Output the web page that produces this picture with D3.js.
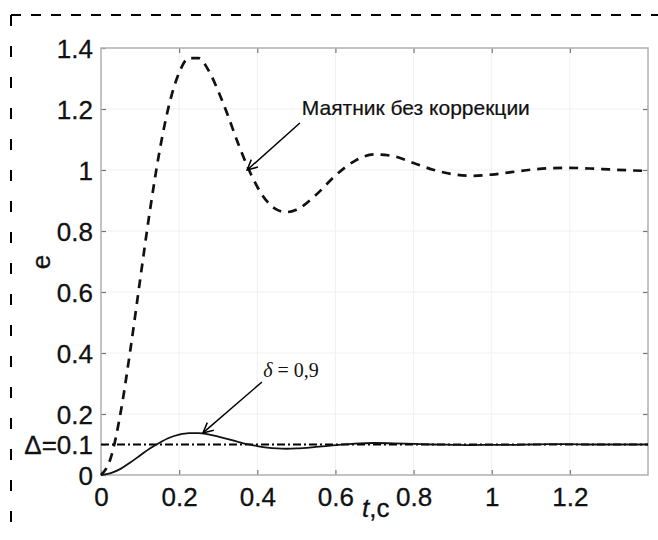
<!DOCTYPE html>
<meta charset="utf-8">
<script src="https://d3js.org/d3.v7.min.js"></script>
<style>
  body { margin: 0; background: #fff; }
  .tick text { font-family: "Liberation Sans", Arial, sans-serif; font-size: 26px; fill: #111; stroke: #111; stroke-width: 0.3px; }
</style>
<div id="chart"></div>
<script>
  // time grid (s)
  var tTime = [0, 0.025, 0.05, 0.075, 0.1, 0.125, 0.15, 0.175, 0.2, 0.225, 0.25, 0.275, 0.3, 0.325, 0.35,
    0.375, 0.4, 0.425, 0.45, 0.475, 0.5, 0.55, 0.6, 0.65, 0.7, 0.75, 0.8, 0.85, 0.9, 0.95, 1.0,
    1.05, 1.1, 1.15, 1.2, 1.25, 1.3, 1.35, 1.4];
  // pendulum without correction (dashed)
  var eNoCorr = [0, 0.056, 0.203, 0.409, 0.639, 0.865, 1.063, 1.217, 1.319, 1.367, 1.367, 1.327, 1.259, 1.178, 1.090,
    1.011, 0.945, 0.897, 0.870, 0.862, 0.870, 0.918, 0.982, 1.030, 1.051, 1.045, 1.023, 1.001, 0.986, 0.981, 0.985,
    0.993, 1.001, 1.006, 1.007, 1.005, 1.002, 0.999, 0.997];
  // delta = 0.9 (solid)
  var eDelta = [0, 0.006, 0.020, 0.041, 0.064, 0.087, 0.106, 0.122, 0.132, 0.137, 0.137, 0.133, 0.126, 0.118, 0.109,
    0.101, 0.095, 0.090, 0.087, 0.086, 0.087, 0.092, 0.098, 0.103, 0.105, 0.104, 0.102, 0.100, 0.099, 0.098, 0.099,
    0.099, 0.100, 0.101, 0.101, 0.100, 0.100, 0.100, 0.100];
  var deltaLevel = 0.1;

  var tTicks = [0, 0.2, 0.4, 0.6, 0.8, 1, 1.2];
  var tTickLabels = ["0", "0.2", "0.4", "0.6", "0.8", "1", "1.2"];
  var eTicks = [0, 0.1, 0.2, 0.4, 0.6, 0.8, 1, 1.2, 1.4];
  var eTickLabels = ["0", "\u0394=0.1", "0.2", "0.4", "0.6", "0.8", "1", "1.2", "1.4"];
  var gridTicks = [0.2, 0.4, 0.6, 0.8, 1, 1.2];

  var W = 658, H = 540;
  var pLeft = 101, pRight = 648, pTop = 48, pBottom = 475;

  var svg = d3.select("#chart").append("svg")
    .attr("width", W).attr("height", H)
    .style("display", "block");

  svg.append("rect").attr("width", W).attr("height", H).attr("fill", "#fff");

  // dashed frame around the figure
  svg.append("line")
    .attr("x1", 11).attr("y1", 15).attr("x2", W).attr("y2", 15)
    .attr("stroke", "#000").attr("stroke-width", 2)
    .attr("stroke-dasharray", "10,10");
  svg.append("line")
    .attr("x1", 11).attr("y1", 15).attr("x2", 11).attr("y2", H)
    .attr("stroke", "#000").attr("stroke-width", 2)
    .attr("stroke-dasharray", "11,20");

  var x = d3.scaleLinear().domain([0, 1.4]).range([pLeft, pRight]);
  var y = d3.scaleLinear().domain([0, 1.4]).range([pBottom, pTop]);

  // grid
  var grid = svg.append("g");
  grid.selectAll(".gx").data(gridTicks).enter().append("line")
    .attr("x1", d => x(d)).attr("x2", d => x(d))
    .attr("y1", pTop).attr("y2", pBottom)
    .attr("stroke", "#f0f0f0").attr("stroke-width", 1);
  grid.selectAll(".gy").data(gridTicks).enter().append("line")
    .attr("x1", pLeft).attr("x2", pRight)
    .attr("y1", d => y(d)).attr("y2", d => y(d))
    .attr("stroke", "#f0f0f0").attr("stroke-width", 1);

  // axes
  var xAxis = svg.append("g")
    .attr("transform", "translate(0," + pBottom + ")")
    .call(d3.axisBottom(x).tickValues(tTicks)
      .tickFormat((d, i) => tTickLabels[i]).tickSizeInner(-5).tickSizeOuter(0).tickPadding(13));
  var xAxisTop = svg.append("g")
    .attr("transform", "translate(0," + pTop + ")")
    .call(d3.axisTop(x).tickValues(tTicks.slice(1)).tickFormat("").tickSizeInner(-5).tickSizeOuter(0));
  var yAxis = svg.append("g")
    .attr("transform", "translate(" + pLeft + ",0)")
    .call(d3.axisLeft(y).tickValues(eTicks)
      .tickFormat((d, i) => eTickLabels[i]).tickSizeInner(-5).tickSizeOuter(0).tickPadding(8));
  var yAxisRight = svg.append("g")
    .attr("transform", "translate(" + pRight + ",0)")
    .call(d3.axisRight(y).tickValues(gridTicks).tickFormat("").tickSizeInner(-5).tickSizeOuter(0));

  [xAxis, xAxisTop, yAxis, yAxisRight].forEach(g => {
    g.select(".domain").remove();
    g.selectAll(".tick line").attr("stroke", "#777").attr("stroke-width", 1.2);
  });
  yAxis.selectAll(".tick text").attr("dy", "0.36em");

  // box
  svg.append("rect")
    .attr("x", pLeft).attr("y", pTop)
    .attr("width", pRight - pLeft).attr("height", pBottom - pTop)
    .attr("fill", "none").attr("stroke", "#b0b0b0").attr("stroke-width", 1.5);

  // delta level (dash-dot)
  svg.append("line")
    .attr("x1", x(0)).attr("x2", x(1.4))
    .attr("y1", y(deltaLevel)).attr("y2", y(deltaLevel))
    .attr("stroke", "#000").attr("stroke-width", 2.2)
    .attr("stroke-dasharray", "8,3,2,3");

  var line = d3.line().curve(d3.curveMonotoneX);

  svg.append("path")
    .attr("d", line(tTime.map((t, i) => [x(t), y(eNoCorr[i])])))
    .attr("fill", "none").attr("stroke", "#111")
    .attr("stroke-width", 2.7).attr("stroke-dasharray", "9,7");

  svg.append("path")
    .attr("d", line(tTime.map((t, i) => [x(t), y(eDelta[i])])))
    .attr("fill", "none").attr("stroke", "#111")
    .attr("stroke-width", 1.8);

  // arrows
  svg.append("defs").append("marker")
    .attr("id", "arr").attr("viewBox", "0 0 12 12")
    .attr("refX", 11).attr("refY", 6)
    .attr("markerWidth", 12).attr("markerHeight", 12)
    .attr("markerUnits", "userSpaceOnUse")
    .attr("orient", "auto")
    .append("path").attr("d", "M1,1 L11,6 L1,11")
    .attr("fill", "none").attr("stroke", "#000").attr("stroke-width", 1.5);

  var arrows = [
    { t0: 0.509, e0: 1.154, t1: 0.374, e1: 1.0 },
    { t0: 0.412, e0: 0.305, t1: 0.261, e1: 0.138 }
  ];
  svg.selectAll(".arrow").data(arrows).enter().append("line")
    .attr("x1", d => x(d.t0)).attr("y1", d => y(d.e0))
    .attr("x2", d => x(d.t1)).attr("y2", d => y(d.e1))
    .attr("stroke", "#000").attr("stroke-width", 1.5)
    .attr("marker-end", "url(#arr)");

  svg.append("text")
    .attr("x", x(0.514)).attr("y", y(1.18))
    .style("font-family", "'Liberation Sans', Arial, sans-serif")
    .style("font-size", "21px").style("fill", "#111")
    .style("stroke", "#111").style("stroke-width", "0.2px")
    .text("Маятник без коррекции");

  var dl = svg.append("text")
    .attr("x", x(0.415)).attr("y", y(0.321))
    .style("font-family", "'Liberation Serif', 'Times New Roman', serif")
    .style("font-size", "20px").style("fill", "#111");
  dl.append("tspan").style("font-style", "italic").text("δ");
  dl.append("tspan").text(" = 0,9");

  // axis labels
  var xl = svg.append("text")
    .attr("x", 362).attr("y", 517)
    .style("font-family", "'Liberation Sans', Arial, sans-serif")
    .style("font-size", "26px").style("fill", "#111")
    .style("stroke", "#111").style("stroke-width", "0.3px");
  xl.append("tspan").style("font-style", "italic").text("t");
  xl.append("tspan").text(",c");

  svg.append("text")
    .attr("transform", "translate(50,262) rotate(-90)")
    .attr("text-anchor", "middle")
    .style("font-family", "'Liberation Sans', Arial, sans-serif")
    .style("font-size", "26px").style("fill", "#111")
    .style("stroke", "#111").style("stroke-width", "0.3px")
    .text("e");
</script>
